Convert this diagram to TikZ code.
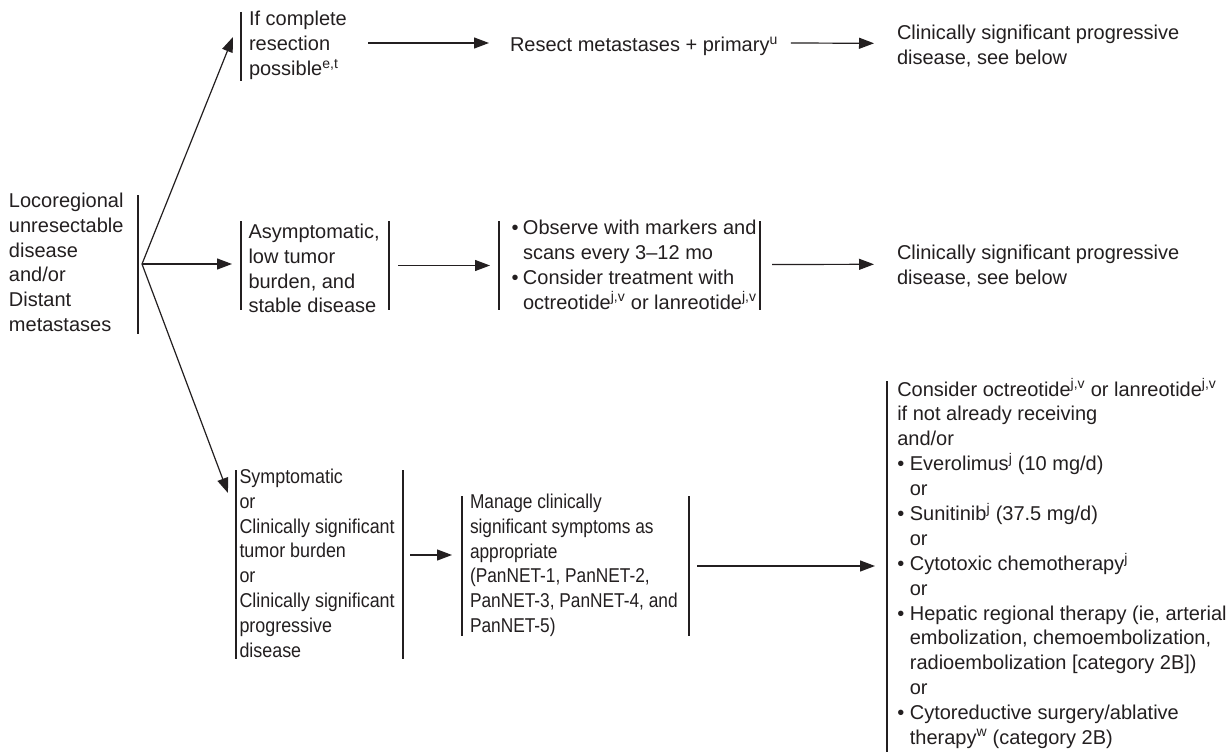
\documentclass[tikz,border=0pt]{standalone}
\usepackage{fontspec}
\usepackage{graphicx}
\setmainfont{Liberation Sans}
\usetikzlibrary{arrows.meta,calc,fit}
\definecolor{ink}{HTML}{231F20}
% a left-aligned block of lines whose baseline is the first line
\newcommand{\lines}[1]{\begin{tabular}[t]{@{}l@{}}#1\end{tabular}}
% the same block set a little narrower
\newcommand{\narrowlines}[2]{\scalebox{#1}[1]{\lines{#2}}}
\newcommand{\bul}{•\ }
\newcommand{\ind}{\hphantom{•\ }}
\newcommand{\tbul}{\makebox[11.5pt][l]{•}}
\newcommand{\tind}{\hspace*{11.5pt}}
\newcommand{\sups}[1]{\textsuperscript{#1}}
\begin{document}
\begin{tikzpicture}[x=1pt,y=-1pt,
  every node/.style={inner sep=0pt,outer sep=0pt},
  txt/.style={anchor=base west,text=ink,font=\fontsize{20}{24.8}\selectfont},
  frame/.style={draw=none,inner sep=0pt},
  bar/.style={draw=ink,line width=1.2pt},
  arr/.style={draw=ink,line width=1.2pt,-{Triangle[length=15pt,width=11pt]}}]
\useasboundingbox[fill=white] (0,0) rectangle (1232,752);

% frames that carry the vertical rules
\node[frame,fit={(5,195) (138,334)}] (Lf) {};
\node[frame,fit={(241,12) (360,81)}] (Af) {};
\node[frame,fit={(241,221) (389,310)}] (Df) {};
\node[frame,fit={(499,221) (760,310)}] (Ef) {};
\node[frame,fit={(236,470) (403,659)}] (Gf) {};
\node[frame,fit={(462,496) (689,636)}] (Hf) {};
\node[frame,fit={(887,381) (1228,752)}] (If) {};

\draw[bar] (Lf.north east) -- (Lf.south east);
\draw[bar] (Af.north west) -- (Af.south west);
\draw[bar] (Df.north west) -- (Df.south west);
\draw[bar] (Df.north east) -- (Df.south east);
\draw[bar] (Ef.north west) -- (Ef.south west);
\draw[bar] (Ef.north east) -- (Ef.south east);
\draw[bar] (Gf.north west) -- (Gf.south west);
\draw[bar] (Gf.north east) -- (Gf.south east);
\draw[bar] (Hf.north west) -- (Hf.south west);
\draw[bar] (Hf.north east) -- (Hf.south east);
\draw[bar] (If.north west) -- (If.south west);

% texts
\node[txt] (Lt) at (9,207.5) {\lines{Locoregional\\unresectable\\disease\\and/or\\Distant\\metastases}};
\node[txt] (At) at (249,26) {\lines{If complete\\resection\\possible\sups{e,t}}};
\node[txt] (Bt) at (510,52) {Resect metastases + primary\sups{u}};
\node[txt] (Ct) at (897,39.3) {\lines{Clinically significant progressive\\disease, see below}};
\node[txt] (Dt) at (248.5,238.5) {\lines{Asymptomatic,\\low tumor\\burden, and\\stable disease}};
\node[txt] (Et) at (511.5,234.5) {\lines{\tbul Observe with markers and\\\tind scans every 3–12 mo\\\tbul Consider treatment with\\\tind octreotide\sups{j,v} or lanreotide\sups{j,v}}};
\node[txt] (Ft) at (897,259.3) {\lines{Clinically significant progressive\\disease, see below}};
\node[txt] (Gt) at (239.5,483.5) {\narrowlines{0.895}{Symptomatic\\or\\Clinically significant\\tumor burden\\or\\Clinically significant\\progressive\\disease}};
\node[txt] (Ht) at (470,508.5) {\narrowlines{0.865}{Manage clinically\\significant symptoms as\\appropriate\\(PanNET-1, PanNET-2,\\PanNET-3, PanNET-4, and\\PanNET-5)}};
\node[txt] (It) at (897.3,396) {\lines{Consider octreotide\sups{j,v} or lanreotide\sups{j,v}\\if not already receiving\\and/or\\\bul Everolimus\sups{j} (10 mg/d)\\\ind or\\\bul Sunitinib\sups{j} (37.5 mg/d)\\\ind or\\\bul Cytotoxic chemotherapy\sups{j}\\\ind or\\\bul Hepatic regional therapy (ie, arterial\\\ind embolization, chemoembolization,\\\ind radioembolization [category 2B])\\\ind or\\\bul Cytoreductive surgery/ablative\\\ind therapy\sups{w} (category 2B)}};

% connectors
\coordinate (fan) at ($(Lf.east)+(4,-0.5)$);
\draw[arr] (fan) -- ($(Af.north west)+(-8,25)$);
\draw[arr] (fan) -- ($(Df.west)+(-9,-1.5)$);
\draw[arr] (fan) -- ($(Gf.north west)+(-8,23)$);
\draw[arr] ($(Af.north east)+(8,31)$) -- ($(Bt.base west)+(-21,-9)$);
\draw[arr] ($(Bt.base east)+(13,-9)$) -- ($(Ct.base west)+(-23,4)$);
\draw[arr,shorten <=9pt,shorten >=9pt] (Df.east) -- (Ef.west);
\draw[arr] ($(Ef.east)+(12,-1)$) -- ($(Ft.base west)+(-23,5)$);
\draw[arr] ($(Gf.east)+(7,-9.5)$) -- ($(Hf.west)+(-10,-11)$);
\draw[arr,shorten <=8pt,shorten >=12pt] (Hf.east) -- (Hf.east -| If.west);
\end{tikzpicture}
\end{document}
